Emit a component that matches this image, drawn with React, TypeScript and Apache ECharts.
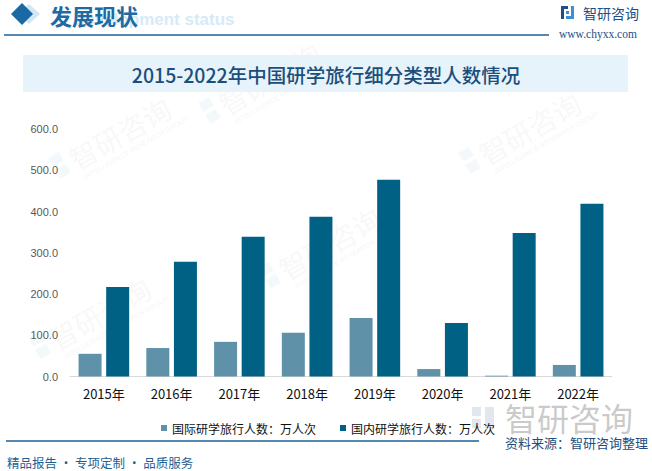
import React, { useEffect, useRef } from "react";
import * as echarts from "echarts";

const years = ["2015年", "2016年", "2017年", "2018年", "2019年", "2020年", "2021年", "2022年"];
const intlValues = [55, 69, 84, 106, 142, 18, 2, 28];
const domesticValues = [217, 278, 339, 387, 477, 130, 348, 419];
const seriesNames = ["国际研学旅行人数：万人次", "国内研学旅行人数：万人次"];
const yTicks = { min: 0, max: 600, interval: 100 };

const CJK = '"Noto Sans CJK SC", "Microsoft YaHei", sans-serif';

function watermark(x: number, y: number) {
  return {
    type: "group",
    x,
    y,
    rotation: Math.PI / 6,
    silent: true,
    children: [
      { type: "rect", shape: { x: -40, y: -14, width: 12, height: 10 }, style: { fill: "rgba(190,215,235,0.18)" } },
      { type: "rect", shape: { x: -40, y: 0, width: 12, height: 10 }, style: { fill: "rgba(190,215,235,0.18)" } },
      { type: "text", style: { x: -22, y: 0, text: "智研咨询", font: `28px ${CJK}`, fill: "rgba(200,200,200,0.14)", verticalAlign: "middle" } },
      { type: "text", style: { x: -18, y: 21, text: "INTELLIGENCE RESEARCH GROUP", font: `7px Arial`, fill: "rgba(200,200,200,0.2)", verticalAlign: "middle" } },
    ],
  };
}

export default function App() {
  const ref = useRef<HTMLDivElement>(null);
  useEffect(() => {
    document.body.style.margin = "0";
    const chart = echarts.init(ref.current!, null, { renderer: "svg" });
    chart.setOption({
      animation: false,
      backgroundColor: "#ffffff",
      grid: { left: 70, right: 40, top: 129, bottom: 94.5 },
      legend: {
        left: 156,
        top: 417,
        itemWidth: 6,
        itemHeight: 6,
        itemGap: 24,
        icon: "rect",
        textStyle: { fontSize: 12, color: "#111", fontFamily: CJK },
        data: seriesNames,
      },
      xAxis: {
        type: "category",
        data: years,
        axisLine: { lineStyle: { color: "#d9d9d9" } },
        axisTick: { show: false },
        axisLabel: { fontSize: 13, color: "#111", margin: 10, fontFamily: CJK },
      },
      yAxis: {
        type: "value",
        min: yTicks.min,
        max: yTicks.max,
        interval: yTicks.interval,
        splitLine: { show: false },
        axisLine: { show: false },
        axisLabel: {
          fontSize: 11,
          color: "#595959",
          margin: 12,
          fontFamily: "Arial, sans-serif",
          formatter: (v: number) => v.toFixed(1),
        },
      },
      series: [
        {
          name: seriesNames[0],
          type: "bar",
          data: intlValues,
          barWidth: 23,
          barGap: "20%",
          itemStyle: { color: "#5f91a9" },
        },
        {
          name: seriesNames[1],
          type: "bar",
          data: domesticValues,
          barWidth: 23,
          itemStyle: { color: "#006184" },
        },
      ],
      graphic: [
        watermark(90, 150),
        watermark(240, 95),
        watermark(70, 330),
        watermark(300, 260),
        watermark(500, 145),
        // header
        {
          type: "polygon",
          shape: { points: [[29, 4], [40, 14], [29, 24], [18, 14]] },
          style: { fill: "#d3e6f3" },
          silent: true,
        },
        {
          type: "polygon",
          shape: { points: [[22, 3], [33, 14], [22, 25], [11, 14]] },
          style: { fill: "#1a69a4" },
          silent: true,
        },
        {
          type: "text",
          style: { x: 73, y: 19, text: "Development status", font: "bold 17px Arial, sans-serif", fill: "#d6eaf7", verticalAlign: "middle" },
          silent: true,
        },
        {
          type: "text",
          style: { x: 50, y: 15, text: "发展现状", font: `bold 22px ${CJK}`, fill: "#1e6aa3", verticalAlign: "middle" },
          silent: true,
        },
        {
          type: "line",
          shape: { x1: 4, y1: 35, x2: 549, y2: 35 },
          style: { stroke: "#1d5f94", lineWidth: 1.5 },
          silent: true,
        },
        // logo
        { type: "rect", shape: { x: 561, y: 6, width: 7, height: 3 }, style: { fill: "#1e4e86" }, silent: true },
        { type: "rect", shape: { x: 561, y: 6, width: 3, height: 13 }, style: { fill: "#1e4e86" }, silent: true },
        { type: "rect", shape: { x: 566, y: 11, width: 3, height: 3 }, style: { fill: "#3b8fd6" }, silent: true },
        { type: "rect", shape: { x: 571, y: 6, width: 3, height: 10 }, style: { fill: "#3b8fd6" }, silent: true },
        { type: "rect", shape: { x: 566, y: 16, width: 8, height: 3 }, style: { fill: "#3b8fd6" }, silent: true },
        {
          type: "text",
          style: { x: 583, y: 13, text: "智研咨询", font: `14px ${CJK}`, fill: "#1e4e86", verticalAlign: "middle" },
          silent: true,
        },
        {
          type: "text",
          style: { x: 559, y: 34, text: "www.chyxx.com", font: `11.5px "Liberation Serif", "DejaVu Serif", serif`, fill: "#1e4e86", verticalAlign: "middle" },
          silent: true,
        },
        // title box
        {
          type: "rect",
          shape: { x: 23, y: 55, width: 605, height: 37 },
          style: { fill: "#e6f3fb" },
          silent: true,
        },
        {
          type: "text",
          style: {
            x: 326,
            y: 74,
            text: "2015-2022年中国研学旅行细分类型人数情况",
            font: `500 19.5px ${CJK}`,
            fill: "#1c4e7b",
            align: "center",
            verticalAlign: "middle",
          },
          silent: true,
        },
        // big gray watermark bottom right
        { type: "rect", shape: { x: 472, y: 407, width: 9, height: 9 }, style: { fill: "rgba(170,185,200,0.35)" }, silent: true },
        { type: "rect", shape: { x: 472, y: 419, width: 9, height: 9 }, style: { fill: "rgba(170,185,200,0.35)" }, silent: true },
        { type: "rect", shape: { x: 485, y: 407, width: 9, height: 21 }, style: { fill: "rgba(170,185,200,0.35)" }, silent: true },
        {
          type: "text",
          style: { x: 505, y: 417, text: "智研咨询", font: `32px ${CJK}`, fill: "rgba(150,150,150,0.5)", verticalAlign: "middle" },
          silent: true,
        },
        // footer
        {
          type: "line",
          shape: { x1: 6, y1: 441, x2: 479, y2: 441 },
          style: { stroke: "#1d5f94", lineWidth: 1.5 },
          silent: true,
        },
        {
          type: "text",
          style: { x: 505, y: 442, text: "资料来源：智研咨询整理", font: `13px ${CJK}`, fill: "#1c4e80", verticalAlign: "middle" },
          silent: true,
        },
        {
          type: "text",
          style: { x: 7, y: 462, text: "精品报告 · 专项定制 · 品质服务", font: `12.5px ${CJK}`, fill: "#1d5f94", verticalAlign: "middle" },
          silent: true,
        },
      ],
    });
    return () => chart.dispose();
  }, []);
  return <div ref={ref} style={{ position: "absolute", left: 0, top: 0, width: 652, height: 471 }} />;
}
